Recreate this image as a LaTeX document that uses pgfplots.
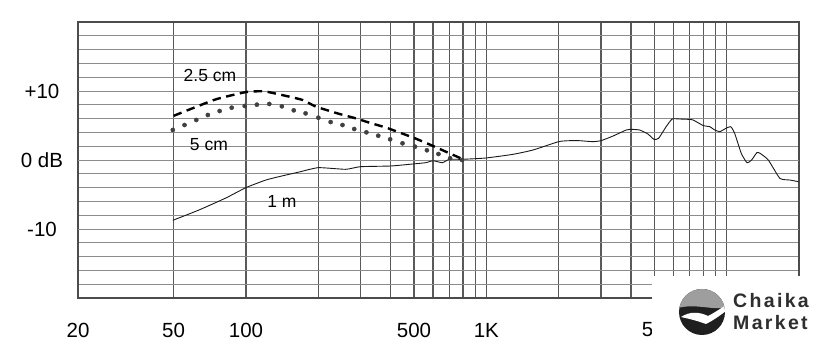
\documentclass[border=0pt]{standalone}
\usepackage{pgfplots}
\pgfplotsset{compat=1.18}
\usepackage{fontspec}
\setmainfont{Liberation Sans}
\newfontfamily\logofont[LetterSpace=12]{Liberation Sans}
\begin{document}
\begin{tikzpicture}[x=1pt,y=1pt]
\path[use as bounding box] (0,0) rectangle (840,361);
\begin{axis}[
  at={(78pt,63pt)}, anchor=south west,
  scale only axis, width=721pt, height=276pt,
  xmode=log, xmin=20, xmax=20000, ymin=-20, ymax=20,
  xtick={20,50,100,200,300,400,500,600,700,800,900,1000,2000,3000,4000,5000,6000,7000,8000,9000,10000},
  xticklabels={20,50,100,,,,500,,,,,1K,,,,5K,,,,,,},
  minor xtick={},
  ytick={-20,-18,...,20},
  yticklabels={,,,,,-10,,,,,0 dB,,,,,+10,,,,,},
  extra y ticks={-10,0,10},
  extra y tick labels={},
  extra y tick style={grid=major, major grid style={black!72, line width=1.2pt}},
  major tick length=0pt, minor tick length=0pt,
  xmajorgrids, ymajorgrids,
  x grid style={black!65, line width=1.1pt},
  y grid style={black!45, line width=0.9pt},
  axis line style={black!70, line width=1.2pt},
  yticklabel style={anchor=center, xshift=-36pt, font=\fontsize{20.5}{24}\selectfont},
  xticklabel style={anchor=center, yshift=-32pt, font=\fontsize{20.5}{24}\selectfont},
  clip=false,
]
% 1 m
\addplot[black!90, line width=0.9pt, smooth, tension=0.3] coordinates {
(49.6,-8.74) (63.7,-7.25) (82.5,-5.5) (100,-4.0) (121,-2.9) (137,-2.42) (166,-1.75)
(200,-1.11) (260,-1.35) (299,-0.97) (400,-0.87) (494,-0.58) (560,-0.39) (600,-0.1)
(656,-0.39) (702,0.1) (795,0.1) (996,0.29) (1290,0.82) (1565,1.45) (2000,2.66)
(2220,2.8) (2440,2.8) (2770,2.66) (3000,2.8) (3370,3.48) (3820,4.35) (3970,4.45)
(4340,4.35) (4700,3.77) (4980,3.0) (5210,3.14) (5600,4.83) (5930,5.94) (6370,5.94)
(6950,5.89) (7250,5.8) (8000,4.98) (8500,4.83) (8920,4.35) (9370,4.11) (9930,4.59)
(10400,4.83) (10800,3.86) (11500,0.97) (12150,-0.39) (12700,0) (13350,1.06)
(13780,0.97) (14900,0) (16650,-2.66) (18300,-2.9) (19900,-3.14)
};
% 2.5 cm
\addplot[black, line width=2.4pt, dash pattern=on 8.5pt off 5.5pt, smooth, tension=0.3] coordinates {
(50,6.4) (58,7.3) (75,8.8) (100,9.85) (119,9.95) (142,9.4) (172,8.7) (195,7.75)
(240,6.76) (286,6.04) (326,5.41) (383,4.69) (437,3.96) (505,3.14) (579,2.27)
(669,1.3) (800,0.1)
};
% 5 cm
\addplot[only marks, mark=*, mark size=2.1pt, black!75] coordinates {
(49.6,4.35) (55.5,5.07) (62.1,5.8) (69.4,6.52) (77.7,7.1) (87.2,7.58) (98.8,7.83)
(111,8.02) (125,8.12) (141,7.78) (158,7.2) (177,6.76) (200,6.13) (225,5.5)
(252,5.07) (282,4.49) (317,4.01) (355,3.52) (398,3.0) (448,2.42) (505,1.93)
(566,1.41) (632,0.87) (707,0.25) (793,0.0)
};
\node[font=\fontsize{17.5}{20}\selectfont] at (axis cs:70.8,12.3) {2.5 cm};
\node[font=\fontsize{17.5}{20}\selectfont] at (axis cs:70.1,2.17) {5 cm};
\node[font=\fontsize{17.5}{20}\selectfont] at (axis cs:141,-6.04) {1 m};
\end{axis}
% watermark
\fill[white] (652,0) rectangle (840,85);
\begin{scope}
\clip (702,49) circle (23);
\fill[black!88] (678,25) rectangle (726,73);
\fill[black!38] (678,73) -- (726,73) -- (726,54) .. controls (714,50) and (696,58) .. (678,53) -- cycle;
\fill[white] (681,44) .. controls (690,50) and (700,49) .. (708,45)
  .. controls (714,48) and (720,52) .. (726,56) -- (726,50)
  .. controls (718,44) and (712,40) .. (706,37)
  .. controls (698,40) and (690,42) .. (681,44) -- cycle;
\end{scope}
\node[anchor=base west, inner sep=0, text=black!82, font=\logofont\bfseries\fontsize{19.5}{22}\selectfont] at (733,53) {Chaika};
\node[anchor=base west, inner sep=0, text=black!82, font=\logofont\bfseries\fontsize{19.5}{22}\selectfont] at (733,31) {Market};
\end{tikzpicture}
\end{document}
